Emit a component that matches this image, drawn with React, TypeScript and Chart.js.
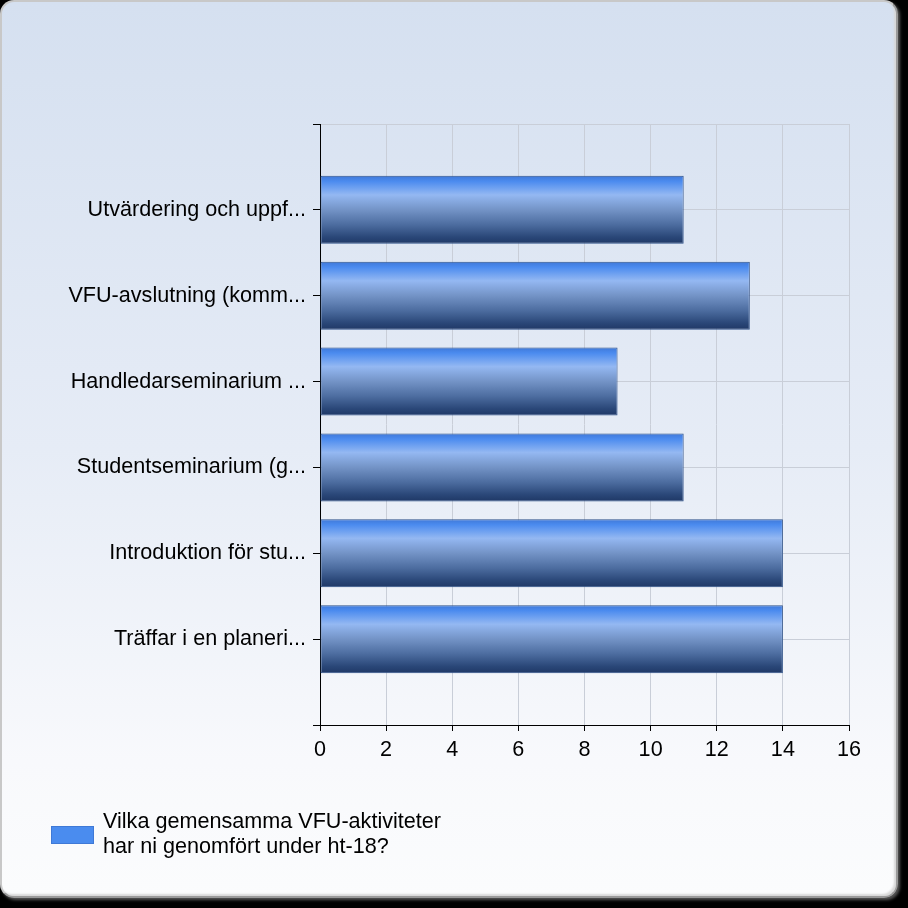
import { useEffect, useRef } from "react";
import { Chart, registerables } from "chart.js";

Chart.register(...registerables);

const categories = [
  "Utvärdering och uppf...",
  "VFU-avslutning (komm...",
  "Handledarseminarium ...",
  "Studentseminarium (g...",
  "Introduktion för stu...",
  "Träffar i en planeri...",
];
const counts = [11, 13, 9, 11, 14, 14];
const xTicks = [0, 2, 4, 6, 8, 10, 12, 14, 16];
const seriesLabel = "Vilka gemensamma VFU-aktiviteter har ni genomfört under ht-18?";
const seriesLabelLines = ["Vilka gemensamma VFU-aktiviteter", "har ni genomfört under ht-18?"];

const FONT = "'Liberation Sans', Arial, sans-serif";
const FONT_SIZE = 21.6;

// paint every bar with a vertical "tube" gradient across its own thickness
const tubeGradient = {
  id: "tubeGradient",
  beforeDatasetsDraw(chart: Chart) {
    const ctx = chart.ctx;
    chart.getDatasetMeta(0).data.forEach((el: any) => {
      if (el.skip || el.height == null) return;
      const top = el.y - el.height / 2;
      const g = ctx.createLinearGradient(0, top, 0, top + el.height);
      g.addColorStop(0, "#3f78d8");
      g.addColorStop(0.08, "#4b8bef");
      g.addColorStop(0.28, "#94b8f2");
      g.addColorStop(0.5, "#7393c6");
      g.addColorStop(0.72, "#4c6c9f");
      g.addColorStop(0.9, "#2a4778");
      g.addColorStop(1, "#1f3866");
      el.options = { ...el.options, backgroundColor: g };
    });
  },
};

const App = () => {
  const canvasRef = useRef<HTMLCanvasElement>(null);

  useEffect(() => {
    if (!canvasRef.current) return;
    const ctx = canvasRef.current.getContext("2d");

    // blank slots above and below so the bars sit one step away from the frame
    const labels = ["", ...categories, ""];
    const values = [null, ...counts, null];

    const myChart = new Chart(ctx!, {
      type: "bar",
      data: {
        labels,
        datasets: [
          {
            label: seriesLabel,
            data: values,
            backgroundColor: "#4a8cef",
            borderColor: "#2d5089",
            borderWidth: 1,
            borderSkipped: false,
            barPercentage: 0.9,
            categoryPercentage: 0.88,
          },
        ],
      },
      options: {
        indexAxis: "y",
        responsive: false,
        animation: false,
        layout: { padding: { top: 124, right: 59, bottom: 143, left: 0 } },
        plugins: {
          legend: { display: false },
          tooltip: { enabled: false },
        },
        scales: {
          x: {
            min: 0,
            max: 16,
            afterBuildTicks: (scale: any) => {
              scale.ticks = xTicks.map((v) => ({ value: v }));
            },
            afterFit: (scale: any) => {
              scale.height = 40;
            },
            border: { color: "#000", width: 1 },
            grid: { color: "#c9ced8", tickColor: "#000", tickLength: 6 },
            ticks: {
              color: "#000",
              padding: 6,
              font: { family: FONT, size: FONT_SIZE },
            },
          },
          y: {
            offset: false,
            afterFit: (scale: any) => {
              scale.width = 320;
            },
            border: { color: "#000", width: 1 },
            grid: { offset: false, color: "#c9ced8", tickColor: "#000", tickLength: 7 },
            ticks: {
              color: "#000",
              padding: 7,
              autoSkip: false,
              font: { family: FONT, size: FONT_SIZE },
            },
          },
        },
      },
      plugins: [tubeGradient],
    });

    return () => {
      myChart.destroy();
    };
  }, []);

  return (
    <div
      style={{
        position: "fixed",
        left: 0,
        top: 0,
        width: 908,
        height: 908,
        background: "#000",
        fontFamily: FONT,
      }}
    >
      <div
        style={{
          position: "absolute",
          left: 0,
          top: 0,
          width: 894,
          height: 894,
          borderRadius: 14,
          border: "2px solid #c8c8c8",
          borderRightColor: "#9a9a9a",
          borderBottomColor: "#9a9a9a",
          boxShadow: "inset -2px -2px 2px #d8d8d8, 2px 2px 3px #555",
          background: "linear-gradient(to bottom, #d5e0f0 0%, #e6ecf6 50%, #f8f9fc 85%, #fbfcfd 100%)",
        }}
      />
      <canvas
        ref={canvasRef}
        width={908}
        height={908}
        style={{ position: "absolute", left: 0, top: 0, width: 908, height: 908 }}
      ></canvas>
      <div
        style={{
          position: "absolute",
          left: 51,
          top: 826,
          width: 43,
          height: 18,
          background: "#4a8cef",
          boxSizing: "border-box",
          border: "1px solid #3f79d6",
        }}
      />
      <div
        style={{
          position: "absolute",
          left: 103,
          top: 808,
          fontSize: FONT_SIZE,
          lineHeight: "25px",
          color: "#000",
          whiteSpace: "nowrap",
        }}
      >
        {seriesLabelLines.map((line) => (
          <div key={line}>{line}</div>
        ))}
      </div>
    </div>
  );
};

export default App;
